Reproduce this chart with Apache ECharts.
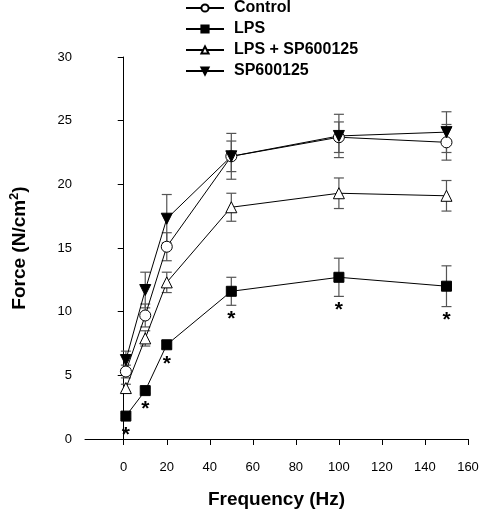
<!DOCTYPE html>
<html>
<head>
<meta charset="utf-8">
<script src="https://cdn.jsdelivr.net/npm/echarts@6/dist/echarts.min.js"></script>
<style>html,body{margin:0;padding:0;background:#fff}#c{width:482px;height:514px}</style>
</head>
<body>
<div id="c"></div>
<script>
// ---- data ----
var freq = [1, 10, 20, 50, 100, 150];
var control = [5.3, 9.7, 15.1, 22.2, 23.7, 23.3];
var controlErr = [0.5, 0.9, 1.1, 1.2, 1.2, 1.4];
var lps = [1.8, 3.8, 7.4, 11.6, 12.7, 12.0];
var lpsErr = [0.2, 0.2, 0.3, 1.1, 1.5, 1.6];
var lpsSp = [4.0, 7.9, 12.3, 18.2, 19.3, 19.1];
var lpsSpErr = [0.3, 0.6, 0.8, 1.1, 1.2, 1.2];
var sp = [6.2, 11.7, 17.3, 22.2, 23.8, 24.1];
var spErr = [0.7, 1.4, 1.9, 1.8, 1.7, 1.6];
var lpsSig = ['*', '*', '*', '*', '*', '*'];
var xTicks = [0, 20, 40, 60, 80, 100, 120, 140, 160];
var yTicks = [0, 5, 10, 15, 20, 25, 30];

var FONT = 'Liberation Sans, Arial, sans-serif';

function pts(ys) { return freq.map(function (x, i) { return [x, ys[i]]; }); }
function errPts(ys, es) { return freq.map(function (x, i) { return [x, ys[i], es[i]]; }); }

function errRender(params, api) {
  var x = api.value(0), y = api.value(1), e = api.value(2);
  var t = api.coord([x, y + e]);
  var b = api.coord([x, y - e]);
  var hw = 5;
  var st = { stroke: '#555', lineWidth: 1.2 };
  return {
    type: 'group',
    children: [
      { type: 'line', shape: { x1: t[0], y1: t[1], x2: b[0], y2: b[1] }, style: st },
      { type: 'line', shape: { x1: t[0] - hw, y1: t[1], x2: t[0] + hw, y2: t[1] }, style: st },
      { type: 'line', shape: { x1: b[0] - hw, y1: b[1], x2: b[0] + hw, y2: b[1] }, style: st }
    ]
  };
}

function errSeries(ys, es) {
  return {
    type: 'custom', renderItem: errRender, data: errPts(ys, es), z: 1, silent: true,
    encode: { x: 0, y: 1 }
  };
}

function lineSeries(name, ys, symbol, size, fill) {
  return {
    name: name, type: 'line', data: pts(ys), symbol: symbol, symbolSize: size,
    showAllSymbol: true, z: 3,
    lineStyle: { color: '#000', width: 1 },
    itemStyle: { color: fill, borderColor: '#000', borderWidth: 1 },
    emphasis: { disabled: true }
  };
}

var sigData = freq.map(function (x, i) { return [x, lps[i], lpsErr[i], lpsSig[i]]; });

var option = {
  animation: false,
  backgroundColor: '#fff',
  grid: { left: 81, right: 14, top: 57, bottom: 73, containLabel: false },
  legend: {
    orient: 'vertical', left: 185, top: 0, padding: 0, itemWidth: 38, itemHeight: 9, itemGap: 5,
    selectedMode: false,
    data: ['Control', 'LPS', 'LPS + SP600125', 'SP600125'],
    textStyle: { fontFamily: FONT, fontWeight: 'bold', fontSize: 16, color: '#000', padding: [0, 0, 0, 5] }
  },
  xAxis: {
    type: 'value', min: -18, max: 160,
    name: 'Frequency (Hz)', nameLocation: 'middle', nameGap: 51,
    nameTextStyle: { fontFamily: FONT, fontWeight: 'bold', fontSize: 19, color: '#000' },
    axisLine: { lineStyle: { color: '#000', width: 1 } },
    axisTick: { show: true, length: 6, customValues: xTicks, lineStyle: { color: '#000' } },
    axisLabel: { customValues: xTicks, margin: 22, fontFamily: FONT, fontSize: 13, color: '#000' },
    splitLine: { show: false }
  },
  yAxis: {
    type: 'value', min: 0, max: 30,
    name: 'Force (N/cm{sup|2})', nameLocation: 'middle', nameGap: 53,
    nameTextStyle: {
      fontFamily: FONT, fontWeight: 'bold', fontSize: 19, color: '#000',
      rich: { sup: { fontFamily: FONT, fontWeight: 'bold', fontSize: 13, color: '#000', padding: [0, 0, 11, 0] } }
    },
    axisLine: { show: true, lineStyle: { color: '#000', width: 1 } },
    axisTick: { show: true, length: 6, customValues: yTicks, lineStyle: { color: '#000' } },
    axisLabel: { customValues: yTicks, margin: 13, fontFamily: FONT, fontSize: 13, color: '#000' },
    splitLine: { show: false }
  },
  series: [
    errSeries(control, controlErr),
    errSeries(lps, lpsErr),
    errSeries(lpsSp, lpsSpErr),
    errSeries(sp, spErr),
    lineSeries('Control', control, 'circle', 11, '#fff'),
    lineSeries('LPS', lps, 'rect', 10, '#000'),
    lineSeries('LPS + SP600125', lpsSp, 'triangle', 11, '#fff'),
    lineSeries('SP600125', sp, 'path://M0,0 L10,0 L5,10 Z', 11, '#000'),
    {
      type: 'custom', data: sigData, z: 4, silent: true, encode: { x: 0, y: 1 },
      renderItem: function (params, api) {
        var x = api.value(0), y = api.value(1), e = api.value(2);
        var c = api.coord([x, y]);
        var b = api.coord([x, y - e]);
        var dy = Math.max(b[1] - c[1], 5) + 9;
        return {
          type: 'text', x: c[0], y: c[1] + dy + 5,
          style: { text: sigData[params.dataIndex][3], fontFamily: FONT, fontWeight: 'bold', fontSize: 21, fill: '#000', align: 'center', verticalAlign: 'middle' }
        };
      }
    }
  ]
};

var chart = echarts.init(document.getElementById('c'), null, { renderer: 'canvas' });
chart.setOption(option);
</script>
</body>
</html>
